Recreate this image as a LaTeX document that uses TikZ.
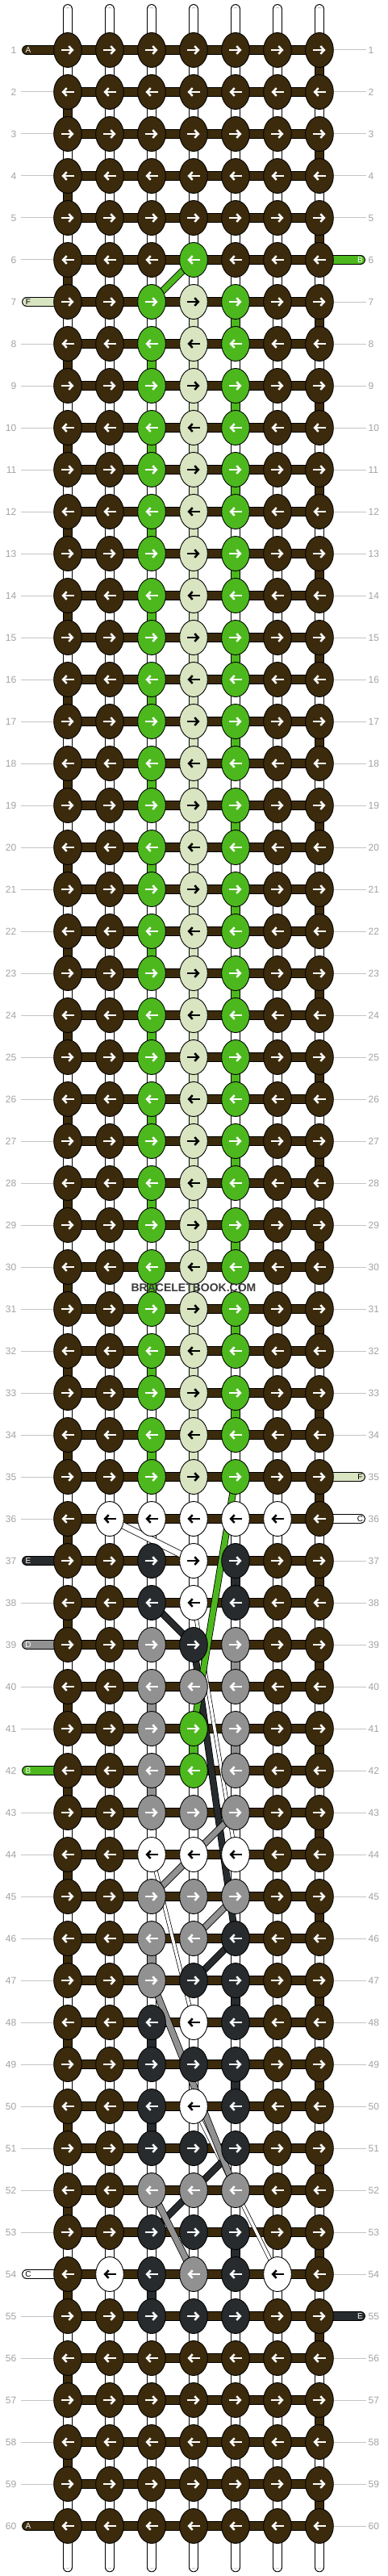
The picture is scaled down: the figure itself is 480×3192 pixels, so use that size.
\documentclass[tikz,border=0pt]{standalone}
\usepackage{fontspec}
\setmainfont{Liberation Sans}
\usetikzlibrary{shapes.geometric,arrows.meta}
\pgfdeclarelayer{bg}
\pgfdeclarelayer{mid}
\pgfdeclarelayer{strands}
\pgfsetlayers{bg,mid,strands,main}
\definecolor{kA}{HTML}{3B2A0C}
\definecolor{kB}{HTML}{4CB81D}
\definecolor{kC}{HTML}{FFFFFF}
\definecolor{kD}{HTML}{919191}
\definecolor{kE}{HTML}{272B2D}
\definecolor{kF}{HTML}{D9E4C1}
\colorlet{arA}{white}\colorlet{arB}{white}\colorlet{arC}{black}
\colorlet{arD}{white}\colorlet{arE}{white}\colorlet{arF}{black}
\definecolor{lblgrey}{HTML}{A3A3A3}
\definecolor{rulegrey}{HTML}{C4C4C4}
\definecolor{warpgrey}{HTML}{9C9C9C}
\definecolor{wmark}{HTML}{3A3A3A}
\tikzset{
  knot/.style={ellipse, draw=black, line width=0.9pt, minimum width=34.6pt, minimum height=43pt, inner sep=0pt},
  karrow/.style={line width=2.5pt, -{Straight Barb[length=4.6pt,width=9.6pt]}},
  cband/.style={draw=black, line width=0.9pt, double=#1, double distance=10.6pt},
  wband/.style={draw=black, line width=0.9pt, double=white, double distance=10.6pt},
  winner/.style={draw=warpgrey, line width=0.7pt, double=white, double distance=3.4pt},
  sband/.style={draw=black, line width=0.8pt, double=#1, double distance=7pt},
  thinband/.style={draw=black, line width=0.7pt, double=#1, double distance=3.6pt},
  rowline/.style={draw=rulegrey, line width=1pt},
  rowlbl/.style={text=lblgrey, font=\fontsize{12}{12}\selectfont, inner sep=0pt},
  pilltxt/.style={font=\fontsize{10}{10}\selectfont, inner sep=0pt},
}
\newcommand{\knot}[3]{%
  \pgfmathsetmacro{\kx}{84+52*(#2-1)}%
  \pgfmathsetmacro{\ky}{62+52*(#1-1)}%
  \node[knot, fill=k#3] (k#1-#2) at (\kx,\ky) {};%
  \ifodd#1\relax
    \draw[karrow, draw=ar#3] ([xshift=-7.6pt]k#1-#2.center) -- ([xshift=7.6pt]k#1-#2.center);%
  \else
    \draw[karrow, draw=ar#3] ([xshift=7.6pt]k#1-#2.center) -- ([xshift=-7.6pt]k#1-#2.center);%
  \fi}
\newcommand{\knotrow}[8]{\knot{#1}{1}{#2}\knot{#1}{2}{#3}\knot{#1}{3}{#4}\knot{#1}{4}{#5}\knot{#1}{5}{#6}\knot{#1}{6}{#7}\knot{#1}{7}{#8}}
\newcommand{\vcol}[3]{%
  \pgfmathtruncatemacro{\rn}{#1+1}%
  \draw[cband=#3] (k#1-#2.center) -- (k\rn-#2.center);}
\newcommand{\pillL}[4]{%
  \pgfmathsetmacro{\ky}{62+52*(#1-1)}%
  \coordinate (eL#1) at (33.3,\ky);%
  \draw[cband=k#2, line cap=round] (eL#1) -- (k#1-1.center);%
  \node[pilltxt, text=#4] (pl#1) at (35,\ky) {#3};}
\newcommand{\pillR}[4]{%
  \pgfmathsetmacro{\ky}{62+52*(#1-1)}%
  \coordinate (eR#1) at (446.7,\ky);%
  \draw[cband=k#2, line cap=round] (k#1-7.center) -- (eR#1);%
  \node[pilltxt, text=#4] (pr#1) at (446.5,\ky) {#3};}
\begin{document}
\begin{tikzpicture}[x=1pt,y=-1pt]
\useasboundingbox (0,0) rectangle (480,3192);
\begin{pgfonlayer}{bg}\fill[white] (0,0) rectangle (480,3192);\end{pgfonlayer}
% knots
\foreach \r in {1,...,5}{\knotrow{\r}AAAAAAA}
\knotrow{6}AAABAAA
\foreach \r in {7,...,35}{\knotrow{\r}AABFBAA}
\knotrow{36}ACCCCCA
\knotrow{37}AAECEAA
\knotrow{38}AAECEAA
\knotrow{39}AADEDAA
\knotrow{40}AADDDAA
\knotrow{41}AADBDAA
\knotrow{42}AADBDAA
\knotrow{43}AADDDAA
\knotrow{44}AACCCAA
\knotrow{45}AADDDAA
\knotrow{46}AADDEAA
\knotrow{47}AADEEAA
\knotrow{48}AAECEAA
\knotrow{49}AAEEEAA
\knotrow{50}AAECEAA
\knotrow{51}AAEEEAA
\knotrow{52}AADDDAA
\knotrow{53}AAEEEAA
\knotrow{54}ACEDECA
\knotrow{55}AAEEEAA
\foreach \r in {56,...,60}{\knotrow{\r}AAAAAAA}
% row labels
\foreach \r in {1,...,60}{
  \pgfmathsetmacro{\ky}{62+52*(\r-1)}
  \node[rowlbl, anchor=east] (ll\r) at (20.5,\ky) {\r};
  \node[rowlbl, anchor=west] (lr\r) at (456.5,\ky) {\r};
}
\node[font=\fontsize{14}{14}\selectfont\bfseries, text=wmark, inner sep=0pt] (wm) at (240,1595.5) {BRACELETBOOK.COM};
\begin{pgfonlayer}{bg}
  \foreach \r in {2,...,6}{\draw[rowline] ([xshift=5.5pt]ll\r.east) -- (k\r-1.west);}
  \foreach \r in {8,...,36}{\draw[rowline] ([xshift=5.5pt]ll\r.east) -- (k\r-1.west);}
  \foreach \r in {38,40,41}{\draw[rowline] ([xshift=5.5pt]ll\r.east) -- (k\r-1.west);}
  \foreach \r in {43,...,53}{\draw[rowline] ([xshift=5.5pt]ll\r.east) -- (k\r-1.west);}
  \foreach \r in {55,...,59}{\draw[rowline] ([xshift=5.5pt]ll\r.east) -- (k\r-1.west);}
  \foreach \r in {1,...,5}{\draw[rowline] (k\r-7.east) -- ([xshift=-2.5pt]lr\r.west);}
  \foreach \r in {7,...,34}{\draw[rowline] (k\r-7.east) -- ([xshift=-2.5pt]lr\r.west);}
  \foreach \r in {37,...,54}{\draw[rowline] (k\r-7.east) -- ([xshift=-2.5pt]lr\r.west);}
  \foreach \r in {56,...,60}{\draw[rowline] (k\r-7.east) -- ([xshift=-2.5pt]lr\r.west);}
  % warp connectors
  \foreach \r in {1,...,59}{
    \pgfmathtruncatemacro{\rn}{\r+1}
    \foreach \c in {1,...,7}{
      \draw[wband] (k\r-\c.center) -- (k\rn-\c.center);
      \draw[winner] (k\r-\c.center) -- (k\rn-\c.center);
    }
  }
  \foreach \c in {1,...,7}{
    \pgfmathsetmacro{\kx}{84+52*(\c-1)}
    \coordinate (tp\c) at (\kx,11.3);
    \coordinate (bt\c) at (\kx,3181);
    \draw[wband, line cap=round] (tp\c) -- (k1-\c.center);
    \draw[winner, line cap=round] (tp\c) -- (k1-\c.center);
    \draw[wband, line cap=round] (k60-\c.center) -- (bt\c);
    \draw[winner, line cap=round] (k60-\c.center) -- (bt\c);
  }
  % coloured connectors
  \foreach \r in {2,4,...,58}{\vcol{\r}{1}{kA}}
  \foreach \r in {1,3,...,59}{\vcol{\r}{7}{kA}}
  \foreach \r in {7,...,34}{\vcol{\r}{4}{kF}}
  \foreach \r in {8,10,...,34}{\vcol{\r}{3}{kB}}
  \foreach \r in {7,9,...,33}{\vcol{\r}{5}{kB}}
  \foreach \r in {37,47,49,53}{\vcol{\r}{5}{kE}}
  \foreach \r in {48,50,54}{\vcol{\r}{3}{kE}}
  \foreach \r in {39,41}{\vcol{\r}{5}{kD}}
  \foreach \r in {40,42,46}{\vcol{\r}{3}{kD}}
  \vcol{41}{4}{kB}
\end{pgfonlayer}
\begin{pgfonlayer}{mid}
  \foreach \r in {1,...,60}{\draw[cband=kA] (k\r-1.center) -- (k\r-7.center);}
  \pillL{1}{A}{A}{white}
  \pillL{7}{F}{F}{black}
  \pillL{37}{E}{E}{white}
  \pillL{39}{D}{D}{white}
  \pillL{42}{B}{B}{white}
  \pillL{54}{C}{C}{black}
  \pillL{60}{A}{A}{white}
  \pillR{6}{B}{B}{white}
  \pillR{35}{F}{F}{black}
  \pillR{36}{C}{C}{black}
  \pillR{55}{E}{E}{white}
\end{pgfonlayer}
\begin{pgfonlayer}{strands}
  \draw[thinband=kC] (k38-4.center) -- (k44-5.center);
  \draw[thinband=kC] (k44-3.center) -- (k48-4.center);
  \draw[thinband=kC] (k50-4.center) -- (k54-6.center);
  \draw[sband=kC] (k36-2.center) -- (k37-4.center);
  \draw[sband=kE] (k38-3.center) -- (k39-4.center);
  \draw[sband=kE] (k39-4.center) -- (k46-5.center);
  \draw[sband=kE] (k46-5.center) -- (k47-4.center);
  \draw[sband=kE] (k51-5.center) -- (k53-3.center);
  \draw[sband=kD] (k43-5.center) -- (k45-3.center);
  \draw[sband=kD] (k45-5.center) -- (k46-4.center);
  \draw[sband=kD] (k47-3.center) -- (k52-5.center);
  \draw[sband=kD] (k52-3.center) -- (k54-4.center);
  \draw[sband=kB] (k6-4.center) -- (k7-3.center);
  \draw[sband=kB] (k35-5.center) -- (k41-4.center);
\end{pgfonlayer}
\end{tikzpicture}
\end{document}
